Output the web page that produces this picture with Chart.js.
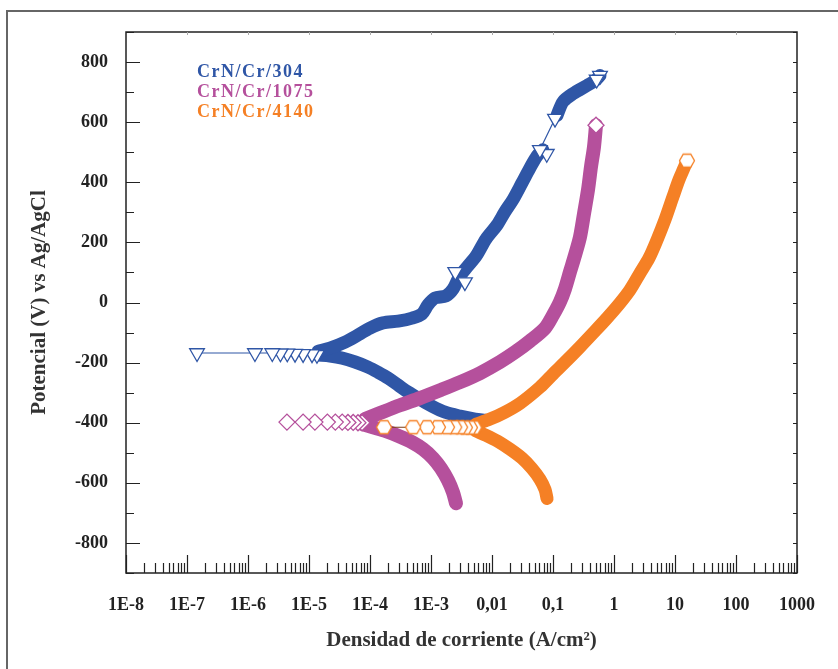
<!DOCTYPE html>
<html>
<head>
<meta charset="utf-8">
<script src="https://cdn.jsdelivr.net/npm/chart.js@4.4.1/dist/chart.umd.min.js"></script>
<style>
    html, body { margin: 0; padding: 0; background: #fff; }
</style>
</head>
<body>
<canvas id="myChart" width="838" height="669"></canvas>
<script>
// series names and colours
var seriesNames = ['CrN/Cr/304', 'CrN/Cr/1075', 'CrN/Cr/4140'];
var seriesColors = ['#2f56a6', '#b5509c', '#f58025'];

// axis ticks
var xTickValues = [1e-8, 1e-7, 1e-6, 1e-5, 1e-4, 1e-3, 1e-2, 1e-1, 1, 10, 100, 1000];
var xTickLabels = ['1E-8', '1E-7', '1E-6', '1E-5', '1E-4', '1E-3', '0,01', '0,1', '1', '10', '100', '1000'];
var yTickValues = [-800, -600, -400, -200, 0, 200, 400, 600, 800];

// CrN/Cr/304 - current density (A/cm2) and potential (mV)
var i304Cath = [7.7e-3, 5.3e-3, 3.0e-3, 1.7e-3, 1.04e-3, 6.6e-4, 4.2e-4, 2.9e-4, 2.0e-4, 1.35e-4, 9.3e-5, 5.7e-5, 3.5e-5, 2.2e-5, 1.4e-5];
var e304Cath = [-392, -388, -378, -365, -345, -322, -298, -275, -252, -232, -215, -198, -185, -178, -175];
var i304Near = [1.35e-5, 1.12e-5, 8.0e-6, 5.9e-6, 4.4e-6, 3.4e-6, 2.5e-6, 1.3e-6, 1.46e-7];
var e304Near = [-174, -172, -171, -170, -169, -169, -168, -168, -168];
var i304Anod = [1.41e-5, 2.2e-5, 3.9e-5, 6.4e-5, 1.0e-4, 1.63e-4, 2.9e-4, 4.9e-4, 7.1e-4, 8.9e-4, 1.16e-3, 1.76e-3, 2.3e-3, 2.9e-3, 3.9e-3, 5.5e-3, 8.0e-3, 1.21e-2, 1.63e-2, 2.2e-2, 3.1e-2, 4.2e-2, 5.5e-2, 6.8e-2];
var e304Anod = [-162, -152, -132, -108, -85, -68, -62, -52, -38, -8, 15, 22, 45, 85, 118, 155, 212, 258, 302, 342, 398, 448, 488, 508];
var i304Jump = [7.9e-2, 6.1e-2, 0.108];
var e304Jump = [495, 508, 612];
var i304Top = [0.116, 0.146, 0.213, 0.361, 0.489, 0.589];
var e304Top = [622, 668, 695, 722, 738, 755];
var i304Marks = [2.5e-3, 3.6e-3, 0.52];
var e304Marks = [102, 68, 742];

// CrN/Cr/1075
var i1075Cath = [2.57e-3, 2.3e-3, 1.9e-3, 1.46e-3, 1.08e-3, 7.4e-4, 4.9e-4, 3.0e-4, 1.83e-4, 1.12e-4, 7.7e-5];
var e1075Cath = [-668, -632, -592, -552, -518, -488, -465, -445, -428, -415, -405];
var i1075Near = [7.4e-5, 6.35e-5, 5.3e-5, 4.35e-5, 3.5e-5, 2.7e-5, 2.0e-5, 1.25e-5, 8.0e-6, 4.35e-6];
var e1075Near = [-400, -400, -399, -399, -398, -398, -398, -398, -398, -398];
var i1075Anod = [8.3e-5, 1.46e-4, 3.1e-4, 6.6e-4, 1.41e-3, 3.0e-3, 6.35e-3, 1.35e-2, 2.4e-2, 4.2e-2, 7.4e-2, 0.1, 0.13, 0.157, 0.19, 0.23, 0.277, 0.322, 0.375, 0.42, 0.47, 0.507];
var e1075Anod = [-388, -368, -342, -318, -292, -265, -235, -198, -165, -128, -85, -42, 2, 45, 102, 158, 218, 295, 375, 452, 518, 590];

// CrN/Cr/4140
var i4140Cath = [7.98e-2, 7.4e-2, 6.1e-2, 4.5e-2, 3.1e-2, 1.97e-2, 1.25e-2, 8.0e-3, 5.5e-3];
var e4140Cath = [-652, -622, -588, -552, -518, -488, -462, -442, -428];
var i4140Near = [5.1e-3, 4.35e-3, 3.6e-3, 3.0e-3, 2.4e-3, 1.83e-3, 1.3e-3, 8.6e-4, 5.1e-4, 1.7e-4];
var e4140Near = [-416, -416, -416, -415, -415, -415, -415, -415, -415, -415];
var i4140Anod = [5.5e-3, 9.3e-3, 1.63e-2, 2.9e-2, 6.1e-2, 0.1, 0.17, 0.277, 0.453, 0.767, 1.25, 1.83, 2.67, 3.75, 5.07, 6.85, 9.27, 11.6, 14.1, 15.7];
var e4140Anod = [-405, -388, -365, -335, -282, -238, -192, -148, -102, -52, -2, 42, 98, 148, 208, 275, 352, 408, 448, 472];

function pts(xs, ys) {
    return xs.map(function (x, k) { return { x: x, y: ys[k] }; });
}

// open hexagon marker (no hexagon in chart.js)
function hexMarker(size, color) {
    var c = document.createElement('canvas');
    c.width = size + 3; c.height = size + 3;
    var g = c.getContext('2d');
    var cx = c.width / 2, cy = c.height / 2, r = size / 2;
    g.beginPath();
    for (var k = 0; k < 6; k++) {
        var a = Math.PI / 3 * k;
        g.lineTo(cx + r * Math.cos(a), cy + r * Math.sin(a));
    }
    g.closePath();
    g.fillStyle = '#fff';
    g.fill();
    g.strokeStyle = color;
    g.lineWidth = 1.3;
    g.stroke();
    return c;
}

var markers = ['triangle', 'rectRot', hexMarker(15, seriesColors[2])];
var markerSize = [8.5, 8, 8];
var thinLine = ['#2f56a6', '#333333', '#7a3b14'];
var bandWidth = [13, 14, 13];

// thick band = densely packed markers
function band(xs, ys, s, order, endMarker) {
    return {
        data: pts(xs, ys),
        showLine: true,
        borderColor: seriesColors[s],
        borderWidth: bandWidth[s],
        borderJoinStyle: 'round',
        borderCapStyle: 'round',
        tension: 0.3,
        pointStyle: markers[s],
        pointRotation: s === 0 ? 180 : 0,
        pointRadius: function (ctx) { return endMarker && ctx.dataIndex === xs.length - 1 ? markerSize[s] : 0; },
        pointBackgroundColor: '#fff',
        pointBorderColor: seriesColors[s],
        pointBorderWidth: 1.3,
        order: order
    };
}

// sparse markers near the corrosion potential
function sparse(xs, ys, s, order, withLine) {
    return {
        data: pts(xs, ys),
        showLine: withLine,
        borderColor: thinLine[s],
        borderWidth: 1.2,
        pointStyle: markers[s],
        pointRotation: s === 0 ? 180 : 0,
        pointRadius: markerSize[s],
        pointBackgroundColor: '#fff',
        pointBorderColor: seriesColors[s],
        pointBorderWidth: 1.3,
        order: order
    };
}

var datasets = [
    band(i304Cath, e304Cath, 0, 40, false),
    band(i304Anod, e304Anod, 0, 39, false),
    band(i304Top, e304Top, 0, 38, true),
    sparse(i304Near, e304Near, 0, 37, true),
    sparse(i304Jump, e304Jump, 0, 36, true),
    sparse(i304Marks, e304Marks, 0, 35, false),
    band(i1075Cath, e1075Cath, 1, 30, false),
    band(i1075Anod, e1075Anod, 1, 29, true),
    sparse(i1075Near, e1075Near, 1, 28, true),
    band(i4140Cath, e4140Cath, 2, 20, false),
    band(i4140Anod, e4140Anod, 2, 19, true),
    sparse(i4140Near, e4140Near, 2, 18, true)
];

// frame, inside ticks and coloured legend text
var decorations = {
    id: 'decorations',
    afterDraw: function (chart) {
        var ctx = chart.ctx, a = chart.chartArea;
        var xs = chart.scales.x, ys = chart.scales.y;
        ctx.save();

        // outer frame of the figure
        ctx.strokeStyle = '#666';
        ctx.lineWidth = 2;
        ctx.beginPath();
        ctx.moveTo(7, 669); ctx.lineTo(7, 11); ctx.lineTo(838, 11);
        ctx.stroke();

        // plot box
        ctx.strokeStyle = '#222';
        ctx.lineWidth = 1.5;
        ctx.strokeRect(a.left, a.top, a.right - a.left, a.bottom - a.top);

        // y ticks, left long / right short
        ctx.lineWidth = 1.2;
        ctx.beginPath();
        for (var v = -900; v <= 900; v += 100) {
            var py = Math.round(ys.getPixelForValue(v)) + 0.5;
            var len = (v % 200 === 0) ? 14 : 8;
            ctx.moveTo(a.left, py); ctx.lineTo(a.left + len, py);
            ctx.moveTo(a.right, py); ctx.lineTo(a.right - 4, py);
        }
        ctx.stroke();

        // x ticks, log decades and minors
        ctx.beginPath();
        for (var d = -8; d <= 3; d++) {
            for (var m = 1; m <= 9; m++) {
                var val = m * Math.pow(10, d);
                if (val > 1000) break;
                var px = Math.round(xs.getPixelForValue(val)) + 0.5;
                var l = m === 1 ? 18 : 10;
                ctx.moveTo(px, a.bottom); ctx.lineTo(px, a.bottom - l);
            }
        }
        ctx.stroke();

        ctx.strokeStyle = '#aaa';
        ctx.lineWidth = 1;
        ctx.beginPath();
        for (var t = -7; t <= 2; t++) {
            var tx = Math.round(xs.getPixelForValue(Math.pow(10, t))) + 0.5;
            ctx.moveTo(tx, a.top); ctx.lineTo(tx, a.top + 3);
        }
        ctx.stroke();

        // legend
        ctx.font = 'bold 18px "Liberation Serif", serif';
        ctx.textBaseline = 'middle';
        ctx.textAlign = 'left';
        ctx.letterSpacing = '1.5px';
        seriesNames.forEach(function (name, k) {
            ctx.fillStyle = seriesColors[k];
            ctx.fillText(name, a.left + 71, a.top + 40 + k * 20);
        });
        ctx.restore();
    }
};

var tickFont = { family: '"Liberation Serif", serif', size: 18, weight: 'bold' };
var titleFont = { family: '"Liberation Serif", serif', size: 21, weight: 'bold' };

var ctx = document.getElementById('myChart').getContext('2d');
var myChart = new Chart(ctx, {
    type: 'scatter',
    data: { datasets: datasets },
    options: {
        responsive: false,
        animation: false,
        layout: { padding: { left: 0, top: 32, right: 41, bottom: 0 } },
        plugins: {
            legend: { display: false },
            tooltip: { enabled: false }
        },
        scales: {
            x: {
                type: 'logarithmic',
                min: 1e-8,
                max: 1000,
                afterBuildTicks: function (s) { s.ticks = xTickValues.map(function (v) { return { value: v }; }); },
                afterFit: function (s) { s.height = 96; },
                grid: { display: false, drawTicks: false },
                border: { display: false },
                ticks: {
                    autoSkip: false,
                    maxRotation: 0,
                    padding: 22,
                    color: '#222',
                    font: tickFont,
                    callback: function (value) { return xTickLabels[xTickValues.indexOf(value)]; }
                },
                title: {
                    display: true,
                    text: 'Densidad de corriente (A/cm²)',
                    color: '#333',
                    font: titleFont,
                    padding: { top: 0, bottom: 16 }
                }
            },
            y: {
                min: -900,
                max: 900,
                afterBuildTicks: function (s) { s.ticks = yTickValues.map(function (v) { return { value: v }; }); },
                afterFit: function (s) { s.width = 126; },
                grid: { display: false, drawTicks: false },
                border: { display: false },
                ticks: {
                    padding: 18,
                    color: '#222',
                    font: tickFont
                },
                title: {
                    display: true,
                    text: 'Potencial (V) vs Ag/AgCl',
                    color: '#333',
                    font: titleFont,
                    padding: { top: 27, bottom: 0 }
                }
            }
        }
    },
    plugins: [decorations]
});
</script>
</body>
</html>
